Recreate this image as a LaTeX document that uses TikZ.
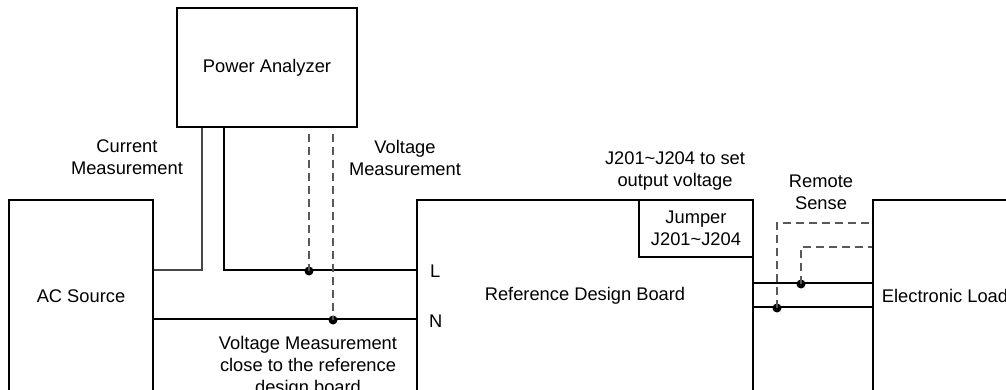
\documentclass[tikz,border=0pt]{standalone}
\usepackage{fontspec}
\setmainfont{Liberation Sans}
\usetikzlibrary{calc}
\begin{document}
\begin{tikzpicture}[x=1pt,y=-1pt,
  font=\fontsize{18.3}{22}\selectfont,
  box/.style={draw,line width=2.2pt,rectangle,inner sep=0pt,align=center},
  wire/.style={line width=2pt},
  graywire/.style={line width=2pt,draw=black!72},
  sense/.style={line width=1.6pt,draw=black!65,dash pattern=on 8pt off 5pt},
  lbl/.style={inner sep=0pt,align=center},
  dot/.style={circle,fill=black,inner sep=0pt,minimum size=9pt}]
\useasboundingbox (0,0) rectangle (1006,390);
\clip (0,0) rectangle (1006,390);
% boxes
\node[box,minimum width=180pt,minimum height=119pt] (pa) at (267,67.5) {Power Analyzer};
\node[box,minimum width=144pt,minimum height=192pt] (ac) at (81,296) {AC Source};
\node[box,minimum width=336pt,minimum height=192pt] (rdb) at (585,296) {Reference Design Board};
\node[box,minimum width=114pt,minimum height=57pt] (jmp) at (696,228.5) {Jumper\\J201\textasciitilde J204};
\node[box,minimum width=144pt,minimum height=192pt] (el) at (945,296) {Electronic Load};
% input wiring
\draw[graywire] ([xshift=26pt]pa.south west) |- ([yshift=-71pt]ac.north east);
\draw[wire] ([xshift=48pt]pa.south west) |- ([yshift=-71pt]rdb.north west);
\draw[wire] ([yshift=-120pt]ac.north east) -- ([yshift=-120pt]rdb.north west);
\node[dot] (dl) at (309,271) {};
\node[dot] (dn) at (333,320) {};
\coordinate (vl) at (309,134);
\coordinate (vn) at (333,134);
\draw[sense] (vl) -- (dl.center);
\draw[sense] (vn) -- (dn.center);
% output wiring
\draw[wire] ([yshift=-84pt]rdb.north east) -- ([yshift=-84pt]el.north west);
\draw[wire] ([yshift=-108pt]rdb.north east) -- ([yshift=-108pt]el.north west);
\node[dot] (dp) at (801,284) {};
\node[dot] (dm) at (777,308) {};
\draw[sense] (dm.center) |- ([yshift=-24pt]el.north west);
\draw[sense] (dp.center) |- ([yshift=-48pt]el.north west);
% labels
\node[lbl,anchor=north] (lc) at (127,140) {Current\\Measurement};
\node[lbl,anchor=north] (lv) at (405,140) {Voltage\\Measurement};
\node[lbl,anchor=north] (lj) at (675,152) {J201\textasciitilde J204 to set\\output voltage};
\node[lbl,anchor=north] (lr) at (821,175) {Remote\\Sense};
\node[lbl,anchor=north] (lvc) at (308,336) {Voltage Measurement\\close to the reference\\design board};
\node[lbl,anchor=west] (tl) at (430,271.5) {L};
\node[lbl,anchor=west] (tn) at (429,321.5) {N};
\end{tikzpicture}
\end{document}
